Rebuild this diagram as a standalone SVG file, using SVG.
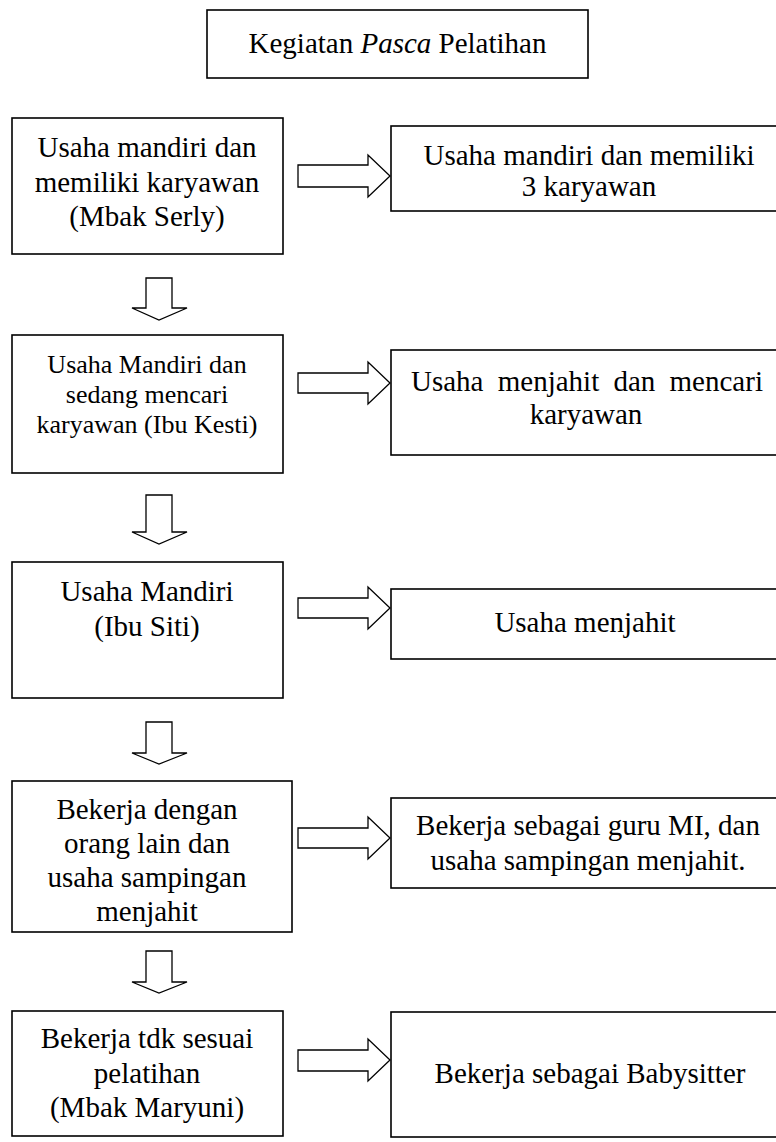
<svg xmlns="http://www.w3.org/2000/svg" width="776" height="1142" viewBox="0 0 776 1142">
<style>
.box{fill:#fff;stroke:#000;stroke-width:1.6}
.arr{fill:#fff;stroke:#000;stroke-width:1.3;stroke-linejoin:miter}
text{font-family:'Liberation Serif',serif;font-size:29px;fill:#000;text-anchor:middle}
.sm{font-size:26px}
</style>
<rect width="776" height="1142" fill="#fff"/>
<g id="connectors">
<polygon class="arr" points="146,278 172,278 172,308 187,308 159,320 132,308 146,308"/>
<polygon class="arr" points="146,495 172,495 172,532 187,532 159,544 132,532 146,532"/>
<polygon class="arr" points="146,722 172,722 172,753 187,753 159,764 132,753 146,753"/>
<polygon class="arr" points="146,951 172,951 172,982 187,982 159,993 132,982 146,982"/>
<polygon class="arr" points="298,165 368,165 368,155 390,176 368,197 368,187 298,187"/>
<polygon class="arr" points="298,373 368,373 368,362 390,383 368,404 368,393 298,393"/>
<polygon class="arr" points="298,598 368,598 368,587 390,608 368,629 368,618 298,618"/>
<polygon class="arr" points="298,828 368,828 368,817 390,838 368,859 368,848 298,848"/>
<polygon class="arr" points="298,1050 368,1050 368,1039 390,1060 368,1081 368,1071 298,1071"/>
</g>
<g id="title">
<rect class="box" x="207" y="10" width="381" height="68"/>
<text x="397.5" y="53">Kegiatan <tspan font-style="italic">Pasca</tspan> Pelatihan</text>
</g>
<g id="n1">
<rect class="box" x="12" y="118" width="271" height="136"/>
<text x="147" y="157">Usaha mandiri dan</text>
<text x="147" y="192">memiliki karyawan</text>
<text x="147" y="226">(Mbak Serly)</text>
</g>
<g id="r1">
<rect class="box" x="391" y="126" width="399" height="85"/>
<text x="589" y="165">Usaha mandiri dan memiliki</text>
<text x="589" y="196">3 karyawan</text>
</g>
<g id="n2">
<rect class="box" x="12" y="335" width="271" height="138"/>
<text class="sm" x="147" y="373">Usaha Mandiri dan</text>
<text class="sm" x="147" y="403">sedang mencari</text>
<text class="sm" x="147" y="433">karyawan (Ibu Kesti)</text>
</g>
<g id="r2">
<rect class="box" x="391" y="350" width="399" height="105"/>
<text x="411" y="391" style="text-anchor:start" word-spacing="7">Usaha menjahit dan mencari</text>
<text x="586" y="424">karyawan</text>
</g>
<g id="n3">
<rect class="box" x="12" y="562" width="271" height="136"/>
<text x="147" y="601">Usaha Mandiri</text>
<text x="147" y="636">(Ibu Siti)</text>
</g>
<g id="r3">
<rect class="box" x="391" y="589" width="399" height="70"/>
<text x="585" y="632">Usaha menjahit</text>
</g>
<g id="n4">
<rect class="box" x="12" y="781" width="280" height="151"/>
<text x="147" y="819">Bekerja dengan</text>
<text x="147" y="853">orang lain dan</text>
<text x="147" y="887">usaha sampingan</text>
<text x="147" y="921">menjahit</text>
</g>
<g id="r4">
<rect class="box" x="391" y="798" width="399" height="90"/>
<text x="588" y="835">Bekerja sebagai guru MI, dan</text>
<text x="588" y="870">usaha sampingan menjahit.</text>
</g>
<g id="n5">
<rect class="box" x="12" y="1011" width="271" height="125"/>
<text x="147" y="1048">Bekerja tdk sesuai</text>
<text x="147" y="1083">pelatihan</text>
<text x="147" y="1117">(Mbak Maryuni)</text>
</g>
<g id="r5">
<rect class="box" x="391" y="1012" width="399" height="125"/>
<text x="590" y="1083">Bekerja sebagai Babysitter</text>
</g>
</svg>
